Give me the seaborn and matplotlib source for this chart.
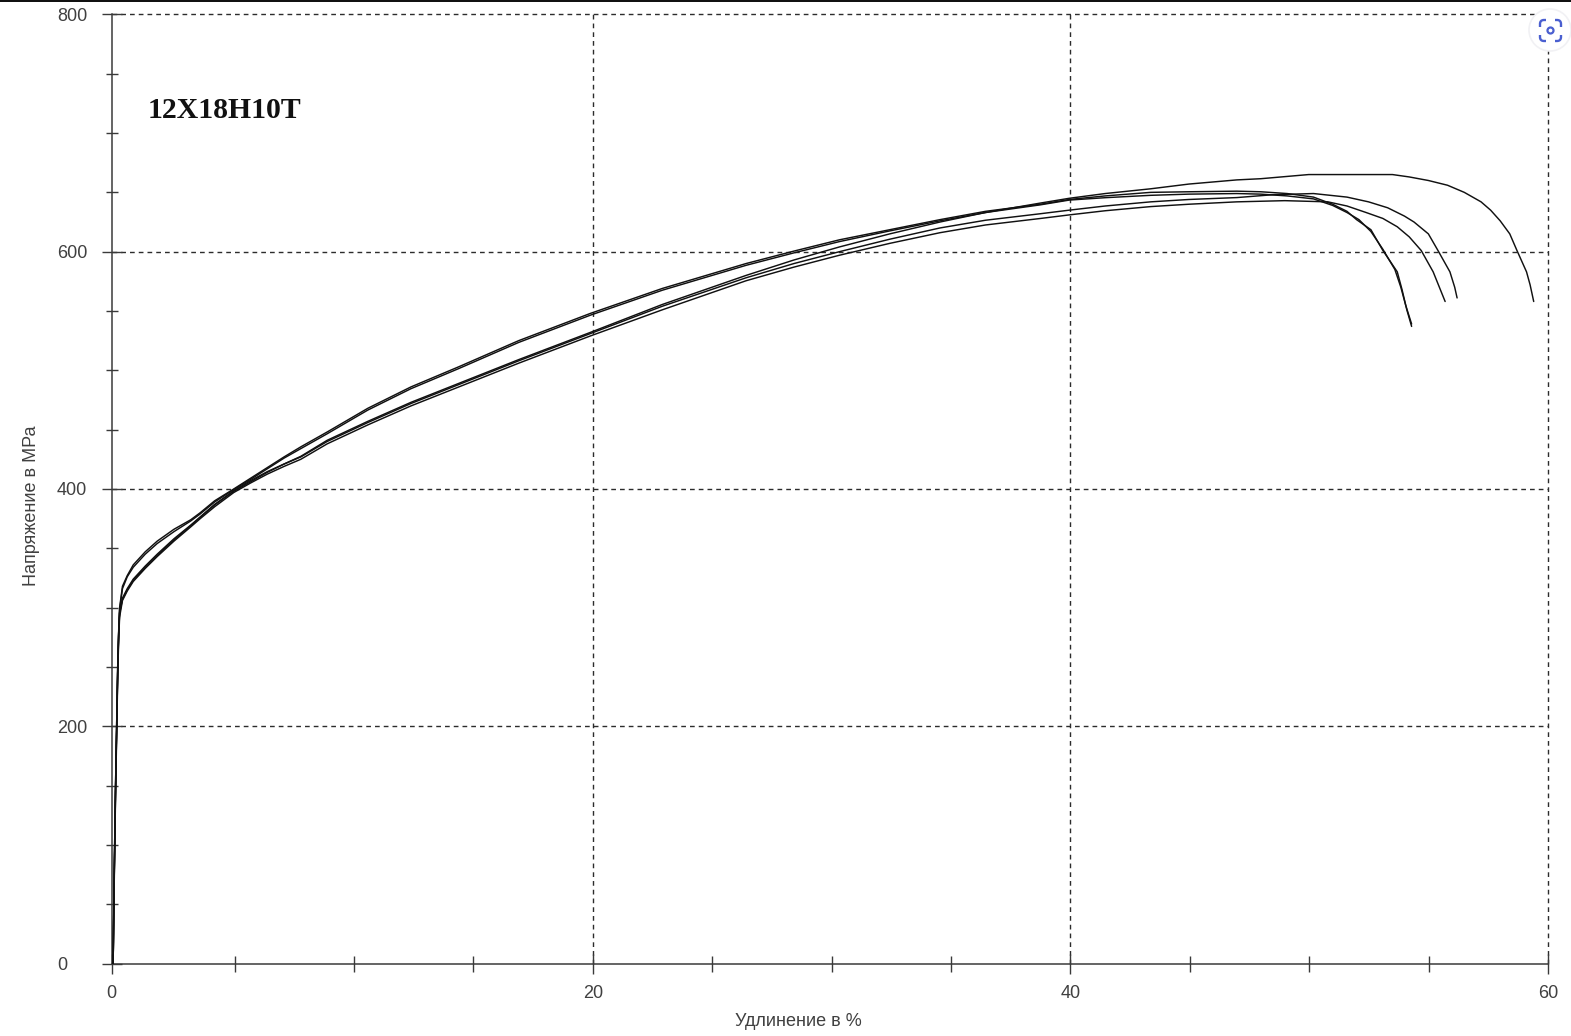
import pandas as pd
import matplotlib.pyplot as plt
import seaborn as sns
from matplotlib.patches import Circle, FancyBboxPatch, Rectangle

# Shared part of the curves
BODY_X = [0.06, 0.1, 0.16, 0.25, 0.29, 0.33, 0.45, 0.65, 0.9, 1.4, 1.9, 2.6, 3.3, 3.7, 4.3, 5.1, 5.8, 6.5,
          7.2, 7.9, 9, 10.7, 12.5, 14.5, 17, 20, 23, 26.5, 28.5, 30.4, 32.5, 34.6, 36.5, 38.8, 40, 41.5, 43.4, 45, 47]

BODY_1 = [0, 70, 150, 250, 280, 300, 318, 327, 336, 347, 356, 366, 374, 380, 390, 400, 409, 418,
          427, 435.5, 448, 468, 486, 503, 525, 548, 569, 590, 600.5, 610, 618.5, 627, 634, 640, 644, 647, 650, 650.5, 651]
BODY_2 = [0, 65, 145, 245, 278, 298, 316, 326, 334, 345, 354, 364, 373, 379, 389, 399.5, 408, 417,
          426, 434, 446.5, 466.5, 484.5, 501.5, 523.5, 546.5, 567.5, 588.5, 599, 608.5, 617.5, 626, 633, 639.5, 643.5, 645.5, 647.5, 648.5, 649]
BODY_3 = [0, 60, 140, 240, 272, 292, 306, 314, 322, 333, 343, 356, 368, 375, 385, 397, 405, 412.5,
          419, 425, 438, 454, 470, 486, 506, 529, 551, 575.5, 587, 597, 607, 616, 622.5, 628, 631, 634.5, 638, 640, 642]
BODY_4 = [0, 70, 150, 250, 278, 296, 308, 316, 324, 335, 345, 358, 369.5, 376.5, 387, 398.5, 407, 414.6,
          421, 427, 440, 456, 472, 488, 508, 531, 554, 578, 590, 600, 610.5, 620, 626.5, 632, 635, 638.5, 642, 644, 645.6]
BODY_5 = [0, 65, 145, 245, 276, 295, 307, 315, 323, 334, 344, 357, 369, 376, 386.5, 398, 406, 414,
          421, 427.5, 441, 457, 473, 489, 509, 532, 555.5, 580, 593, 604, 615, 625, 633, 641, 645, 649, 653, 657, 660.5]

# Tails after the maximum, every curve breaks at its own elongation
TAIL_X_1 = [48, 49.1, 50.2, 51, 51.6, 52, 52.6, 53.1, 53.7, 53.9, 54.1, 54.3]
TAIL_Y_1 = [650.5, 649, 646, 640, 634, 627, 618.5, 601, 583, 568, 551, 537]
TAIL_X_2 = [48, 49.1, 50.2, 51, 51.6, 52.1, 52.6, 53.1, 53.6, 53.85, 54.05, 54.3]
TAIL_Y_2 = [648.5, 647, 644.5, 639, 633, 627, 617, 602, 585, 570, 555, 539]
TAIL_X_3 = [49, 50.8, 51.6, 52.4, 53.1, 53.7, 54.2, 54.7, 55.2, 55.5, 55.7]
TAIL_Y_3 = [643, 642, 638.5, 633, 628, 621, 612.5, 601, 583, 568, 558]
TAIL_X_4 = [48.5, 50.2, 51.6, 52.5, 53.3, 54, 54.4, 55, 55.4, 55.9, 56.1, 56.2]
TAIL_Y_4 = [648, 649, 646, 642, 637, 630, 625, 615, 601, 583, 570, 561]
TAIL_X_5 = [48, 50, 53.5, 54.2, 55, 55.8, 56.5, 57.2, 57.6, 58, 58.4, 58.7, 59.1, 59.25, 59.4]
TAIL_Y_5 = [661.5, 665, 665, 663, 660, 656, 650, 642, 635, 626, 615, 601, 583, 572, 558]

X_TICK_LABELS = ['0', '20', '40', '60']
X_MAJOR = [-0.147, 20, 40, 60]
X_MINOR = [5, 10, 15, 25, 30, 35, 45, 50, 55]
Y_MAJOR = [0, 200, 400, 600, 800]
Y_MINOR = [50, 100, 150, 250, 300, 350, 450, 500, 550, 650, 700, 750]

INK = '#111111'
AXIS_GREY = '#3a3a3a'
TEXT_GREY = '#404040'
GRID_GREY = '#2c2c2c'
ICON_BLUE = '#4a5fd0'

W, H = 1571, 1036

sns.set_theme(style='white')
plt.rcParams['font.family'] = ['Liberation Sans', 'DejaVu Sans']

rows = []
curves = [(BODY_1, TAIL_X_1, TAIL_Y_1), (BODY_2, TAIL_X_2, TAIL_Y_2), (BODY_3, TAIL_X_3, TAIL_Y_3),
          (BODY_4, TAIL_X_4, TAIL_Y_4), (BODY_5, TAIL_X_5, TAIL_Y_5)]
for i, (body, tail_x, tail_y) in enumerate(curves):
    part = pd.DataFrame({'x': BODY_X + tail_x, 'y': body + tail_y})
    part['curve'] = i
    rows.append(part)
df = pd.concat(rows, ignore_index=True)
# values were read against the 0-60 span of the spine, the real scale starts a bit to the right of it
df['x'] = df['x'] * 1.0025 - 0.147

fig = plt.figure(figsize=(W / 100, H / 100), dpi=100, facecolor='white')
ax = fig.add_axes([111.7 / W, 1 - 963.5 / H, (1548 - 111.7) / W, (963.5 - 14.4) / H])
ax.set_facecolor('white')

sns.lineplot(data=df, x='x', y='y', units='curve', estimator=None, sort=False,
             color=INK, linewidth=1.05, ax=ax, zorder=3)

ax.set_xlim(-0.147, 60)
ax.set_ylim(0, 800)
ax.set_xlabel('')
ax.set_ylabel('')

ax.set_xticks(X_MAJOR)
ax.set_xticks(X_MINOR, minor=True)
ax.set_yticks(Y_MAJOR)
ax.set_yticks(Y_MINOR, minor=True)
ax.set_xticklabels(X_TICK_LABELS)
ax.set_yticklabels([str(v) for v in Y_MAJOR])

ax.tick_params(axis='x', which='major', direction='inout', length=15, width=1.0, color=AXIS_GREY, pad=8,
               labelsize=13, labelcolor=TEXT_GREY, bottom=True)
ax.tick_params(axis='x', which='minor', direction='inout', length=11, width=1.0, color=AXIS_GREY, bottom=True)
ax.tick_params(axis='y', which='major', direction='inout', length=15, width=1.0, color=AXIS_GREY, pad=32,
               labelsize=13, labelcolor=TEXT_GREY, left=True)
ax.tick_params(axis='y', which='minor', direction='inout', length=9, width=1.0, color=AXIS_GREY, left=True)
for label in ax.get_yticklabels():
    label.set_ha('left')

ax.grid(True, which='major', color=GRID_GREY, linewidth=1.0, linestyle=(0, (3.4, 2.9)))
for line in ax.get_xgridlines() + ax.get_ygridlines():
    line.set_clip_on(False)
# no dashes on top of the solid axes
ax.get_xgridlines()[0].set_visible(False)
ax.get_ygridlines()[0].set_visible(False)

sns.despine(ax=ax)
for side in ['left', 'bottom']:
    ax.spines[side].set_color(AXIS_GREY)
    ax.spines[side].set_linewidth(1.1)

fig.text(147.5 / W, 1 - 118 / H, '12Х18Н10Т', family='Liberation Serif', fontweight='bold',
         fontsize=21.4, color='#111111', ha='left', va='baseline')
fig.text(798 / W, 1 - 1021 / H, 'Удлинение в %', fontsize=13, color=TEXT_GREY, ha='center', va='center')
fig.text(31.5 / W, 1 - 506 / H, 'Напряжение в МРа', fontsize=13, color=TEXT_GREY, rotation=90,
         ha='center', va='center')

# Screenshot leftovers: dark strip on top and the round lens button
over = fig.add_axes([0, 0, 1, 1], zorder=5)
over.set_xlim(0, W)
over.set_ylim(H, 0)
over.axis('off')
over.add_patch(Rectangle((0, 0), W, 1.6, color='#111111', lw=0))
over.add_patch(Circle((1550, 30), 21, facecolor='white', edgecolor='#f1f1f4', lw=1.2))
over.add_patch(FancyBboxPatch((1540, 20), 21, 21, boxstyle='round,pad=0,rounding_size=4', facecolor='none',
                              edgecolor=ICON_BLUE, lw=1.7))
over.add_patch(Rectangle((1546, 16), 9, 28, color='white', lw=0))
over.add_patch(Rectangle((1536, 26.5), 28, 8, color='white', lw=0))
over.add_patch(Circle((1550.5, 30.5), 3, facecolor='none', edgecolor=ICON_BLUE, lw=1.6))

fig.savefig('out.png', dpi=100)
